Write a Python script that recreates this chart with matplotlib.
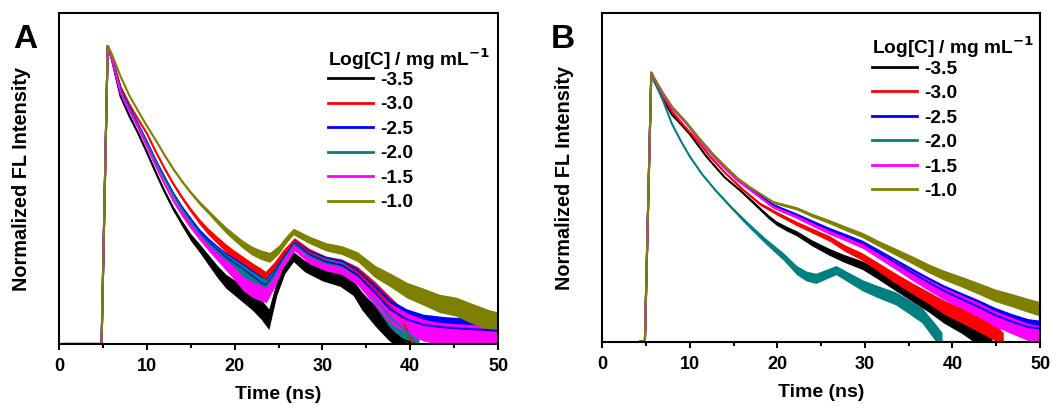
#!/usr/bin/env python3
# -*- coding: utf-8 -*-
"""Normalized fluorescence decay curves for two sample series (panels A and B)."""

import matplotlib

matplotlib.use("Agg")

import matplotlib.pyplot as plt
from matplotlib.ticker import MultipleLocator, NullLocator
import numpy as np

plt.rcParams["font.family"] = ["Liberation Sans", "DejaVu Sans"]
plt.rcParams["font.weight"] = "bold"
plt.rcParams["mathtext.default"] = "bf"

LABELS = ["-3.5", "-3.0", "-2.5", "-2.0", "-1.5", "-1.0"]
COLORS = ["#000000", "#ff0000", "#0000ff", "#008080", "#ff00ff", "#808000"]

# ---- panel A: time (ns) and normalized intensity (fraction of axis height)
A_BLACK_T = [0.5, 4.85, 5.55, 6, 7, 8, 9, 10, 11, 12, 13, 14, 15, 16, 17, 18, 19, 20, 21, 22, 23,
             23.9, 24.8, 25.7, 26.7, 28, 30, 32, 33.5, 34.5, 36, 37.5, 39, 40.5]
A_BLACK_Y = [0.0, 0.0, 0.901, 0.862, 0.75, 0.69, 0.638, 0.58, 0.52, 0.462, 0.41, 0.365, 0.323,
             0.29, 0.255, 0.22, 0.19, 0.17, 0.15, 0.13, 0.105, 0.075, 0.17, 0.23, 0.264, 0.235,
             0.21, 0.195, 0.17, 0.13, 0.085, 0.045, 0.015, 0.0]
A_RED_T = [0.5, 4.85, 5.55, 6, 7, 8, 9, 10, 11, 12, 13, 14, 15, 16, 17, 18, 19, 20, 21, 22, 23,
           23.5, 24.5, 25.5, 26.8, 28.5, 30.4, 32.2, 34, 36, 37.7, 39, 40.3]
A_RED_Y = [0.0, 0.0, 0.901, 0.872, 0.778, 0.725, 0.68, 0.637, 0.583, 0.532, 0.485, 0.443, 0.405,
           0.37, 0.34, 0.315, 0.29, 0.268, 0.248, 0.228, 0.21, 0.2, 0.23, 0.27, 0.31, 0.275, 0.25,
           0.24, 0.215, 0.165, 0.115, 0.08, 0.0]
A_BLUE_T = [0.5, 4.85, 5.55, 6, 7, 8, 9, 10, 11, 12, 13, 14, 15, 16, 17, 18, 19, 20, 21, 22, 23,
            23.6, 24.5, 25.5, 26.8, 28.5, 30.4, 32.2, 34, 36, 37.7, 39.6, 41.5, 44, 47, 50]
A_BLUE_Y = [0.0, 0.0, 0.901, 0.868, 0.77, 0.715, 0.665, 0.612, 0.556, 0.505, 0.455, 0.412, 0.375,
            0.338, 0.31, 0.285, 0.262, 0.243, 0.225, 0.205, 0.185, 0.178, 0.21, 0.255, 0.305,
            0.27, 0.248, 0.238, 0.208, 0.155, 0.105, 0.075, 0.058, 0.05, 0.045, 0.04]
A_TEAL_T = [0.5, 4.85, 5.55, 6, 7, 8, 9, 10, 11, 12, 13, 14, 15, 16, 17, 18, 19, 20, 21, 22, 23,
            23.6, 24.5, 25.5, 26.8, 28.5, 30.4, 32.2, 34, 36, 37.7, 39.5, 41]
A_TEAL_Y = [0.0, 0.0, 0.901, 0.866, 0.767, 0.711, 0.66, 0.607, 0.551, 0.5, 0.45, 0.407, 0.37,
            0.333, 0.305, 0.28, 0.257, 0.238, 0.22, 0.2, 0.18, 0.173, 0.205, 0.25, 0.3, 0.265,
            0.243, 0.232, 0.2, 0.14, 0.08, 0.04, 0.0]
A_MAGENTA_T = [0.5, 4.85, 5.55, 6, 7, 8, 9, 10, 11, 12, 13, 14, 15, 16, 17, 18, 19, 20, 21, 22, 23,
               23.6, 24.5, 25.5, 26.8, 28.5, 30.4, 32.2, 34, 36, 37.7, 39.6, 41.5, 43.3, 45, 47, 50]
A_MAGENTA_Y = [0.0, 0.0, 0.901, 0.865, 0.76, 0.705, 0.655, 0.598, 0.54, 0.485, 0.435, 0.393,
               0.357, 0.325, 0.295, 0.267, 0.24, 0.212, 0.182, 0.165, 0.155, 0.15, 0.19, 0.245,
               0.294, 0.258, 0.238, 0.228, 0.198, 0.143, 0.093, 0.062, 0.042, 0.032, 0.028,
               0.025, 0.02]
A_OLIVE_T = [0.5, 4.85, 5.55, 6, 7, 8, 9, 10, 11, 12, 13, 14, 15, 16, 17, 18, 19, 20, 21, 22, 23,
             24, 25, 26, 26.7, 28.5, 30.4, 32.2, 34, 36, 37.7, 39.6, 41.5, 43.3, 45.2, 47, 48.9, 50]
A_OLIVE_Y = [0.0, 0.0, 0.901, 0.878, 0.81, 0.752, 0.705, 0.66, 0.617, 0.572, 0.53, 0.492, 0.458,
             0.427, 0.4, 0.372, 0.345, 0.322, 0.3, 0.282, 0.27, 0.262, 0.285, 0.32, 0.34, 0.315,
             0.294, 0.284, 0.264, 0.219, 0.194, 0.163, 0.143, 0.123, 0.113, 0.093, 0.073, 0.065]

# ---- panel B
B_BLACK_T = [4.3, 4.87, 5.6, 6, 7, 8, 8.9, 10, 11.9, 13, 14, 15.7, 17, 18, 19, 19.9, 21, 22.2,
             24, 25.9, 27.5, 29.7, 31.5, 33.5, 35.5, 37.3, 39, 41, 42.5, 43.5, 44.5]
B_BLACK_Y = [0.0, 0.0, 0.819, 0.79, 0.735, 0.69, 0.665, 0.632, 0.564, 0.53, 0.5, 0.462, 0.43,
             0.405, 0.38, 0.361, 0.345, 0.33, 0.3, 0.274, 0.255, 0.233, 0.205, 0.172, 0.14,
             0.111, 0.08, 0.051, 0.025, 0.01, 0.0]
B_RED_T = [4.3, 4.87, 5.6, 6, 7, 8, 9, 10, 11, 12.3, 14, 16.1, 18, 20, 22.2, 24, 25.9, 27.7,
           29.7, 31.5, 33.5, 35.5, 37.3, 39, 41, 43, 44.8, 45.8]
B_RED_Y = [0.0, 0.0, 0.819, 0.795, 0.743, 0.7, 0.668, 0.638, 0.608, 0.564, 0.515, 0.462, 0.42,
           0.39, 0.36, 0.338, 0.315, 0.285, 0.259, 0.228, 0.193, 0.16, 0.132, 0.105, 0.081,
           0.055, 0.03, 0.0]
B_BLUE_T = [4.3, 4.87, 5.6, 6, 7, 8, 9.6, 11, 12.7, 14, 15.5, 16.9, 19.5, 22.2, 24, 25.9, 27.8,
            29.7, 31.5, 33.5, 35.5, 37.3, 39, 41, 43, 44.8, 46.7, 48.6, 50]
B_BLUE_Y = [0.0, 0.0, 0.819, 0.798, 0.752, 0.712, 0.667, 0.62, 0.567, 0.532, 0.495, 0.467,
            0.416, 0.386, 0.364, 0.341, 0.321, 0.3, 0.272, 0.24, 0.208, 0.18, 0.155, 0.13, 0.106,
            0.082, 0.062, 0.045, 0.04]
B_TEAL_T = [4.3, 4.87, 5.6, 6, 6.4, 7, 7.93, 9, 10, 11.4, 12.9, 14.7, 16.5, 18.5, 20.7, 22.2,
            23.3, 24.4, 25.5, 26.7, 28, 29.7, 31.5, 33.5, 35, 36.5, 38, 38.8]
B_TEAL_Y = [0.0, 0.0, 0.819, 0.79, 0.767, 0.73, 0.665, 0.61, 0.564, 0.51, 0.462, 0.41, 0.361,
            0.31, 0.259, 0.218, 0.2, 0.193, 0.205, 0.218, 0.198, 0.172, 0.152, 0.132, 0.107,
            0.081, 0.03, 0.0]
B_MAGENTA_T = [4.3, 4.87, 5.6, 6, 7, 8, 9.6, 11, 12.7, 14, 15.5, 16.9, 19.5, 22.2, 24, 25.9,
               27.8, 29.7, 31.5, 33.5, 35.5, 37.3, 39, 41, 43, 44.8, 46.7, 48.6, 50]
B_MAGENTA_Y = [0.0, 0.0, 0.819, 0.797, 0.75, 0.71, 0.665, 0.617, 0.564, 0.528, 0.49, 0.462,
               0.411, 0.381, 0.358, 0.335, 0.315, 0.294, 0.265, 0.233, 0.2, 0.172, 0.147, 0.122,
               0.097, 0.071, 0.05, 0.03, 0.022]
B_OLIVE_T = [4.3, 4.87, 5.6, 6, 7, 8, 9.6, 11, 12.7, 14, 15.5, 16.9, 19.5, 22.2, 24, 25.9, 27.8,
             29.7, 31.5, 33.5, 35.5, 37.3, 39, 41, 43, 44.8, 46.7, 48.6, 50]
B_OLIVE_Y = [0.0, 0.0, 0.819, 0.8, 0.755, 0.715, 0.668, 0.622, 0.57, 0.535, 0.497, 0.47, 0.425,
             0.406, 0.385, 0.366, 0.345, 0.325, 0.3, 0.274, 0.248, 0.223, 0.203, 0.183, 0.162,
             0.142, 0.127, 0.111, 0.1]

# half-width of the noisy trace at a given intensity level
NOISE_LEVEL = [0.0, 0.1, 0.2, 0.3, 0.4, 0.5, 0.7, 1.0]
NOISE_A = [0.035, 0.03, 0.02, 0.012, 0.007, 0.004, 0.0015, 0.0]
NOISE_B = [0.028, 0.022, 0.015, 0.009, 0.005, 0.002, 0.0, 0.0]

PANEL_A = [(A_BLACK_T, A_BLACK_Y), (A_RED_T, A_RED_Y), (A_BLUE_T, A_BLUE_Y),
           (A_TEAL_T, A_TEAL_Y), (A_MAGENTA_T, A_MAGENTA_Y), (A_OLIVE_T, A_OLIVE_Y)]
PANEL_B = [(B_BLACK_T, B_BLACK_Y), (B_RED_T, B_RED_Y), (B_BLUE_T, B_BLUE_Y),
           (B_TEAL_T, B_TEAL_Y), (B_MAGENTA_T, B_MAGENTA_Y), (B_OLIVE_T, B_OLIVE_Y)]

FS = 13.8


def _draw_panel(ax, curves, noise, letter, legend_top, letter_x):
    for (t, y), label, color in zip(curves, LABELS, COLORS):
        t = np.asarray(t, dtype=float)
        y = np.asarray(y, dtype=float)
        w = np.interp(y, NOISE_LEVEL, noise)
        w = np.where(t > t[np.argmax(y)], w, 0.0)
        ax.fill_between(t, y - w, y + w, color=color, linewidth=0)
        ax.plot(t, y, color=color, linewidth=1.5, label=label)
    ax.set_xlim(0, 50)
    ax.set_ylim(0, 1)
    ax.xaxis.set_major_locator(MultipleLocator(10))
    ax.xaxis.set_minor_locator(MultipleLocator(5))
    ax.yaxis.set_major_locator(NullLocator())
    ax.tick_params(axis="x", which="major", direction="out", length=4, width=1.5,
                   labelsize=13, pad=6)
    ax.tick_params(axis="x", which="minor", direction="out", length=3, width=1.5)
    for lab in ax.get_xticklabels():
        lab.set_fontweight("bold")
    for spine in ax.spines.values():
        spine.set_linewidth(1.5)
    ax.set_xlabel("Time (ns)", fontsize=14, fontweight="bold", labelpad=8)
    ax.set_ylabel("Normalized FL Intensity", fontsize=14.3, fontweight="bold", labelpad=20)
    leg = ax.legend(loc="upper left", bbox_to_anchor=(letter_x[1], legend_top), frameon=False,
                    title="Log[C] / mg mL$^{-1}$", handlelength=2.35, handletextpad=0.37,
                    labelspacing=0.37, borderpad=0, borderaxespad=0,
                    prop={"weight": "bold", "size": FS})
    leg.get_title().set_fontweight("bold")
    leg.get_title().set_fontsize(FS)
    leg._legend_box.align = "left"
    leg._legend_box.sep = 0
    for line in leg.get_lines():
        line.set_linewidth(2.0)
    ax.text(letter_x[0], 0.967, letter, transform=ax.transAxes, fontsize=24, fontweight="bold",
            ha="left", va="top")


def main():
    fig = plt.figure(figsize=(10.59, 4.08), dpi=100)
    ax_a = fig.add_axes([0.0557, 0.1569, 0.4146, 0.8105])
    ax_b = fig.add_axes([0.5687, 0.1625, 0.4134, 0.8049])
    _draw_panel(ax_a, PANEL_A, NOISE_A, "A", 0.901, (-0.105, 0.612))
    _draw_panel(ax_b, PANEL_B, NOISE_B, "B", 0.935, (-0.118, 0.617))
    fig.savefig("out.png", dpi=100)
    plt.close(fig)


if __name__ == "__main__":
    main()
